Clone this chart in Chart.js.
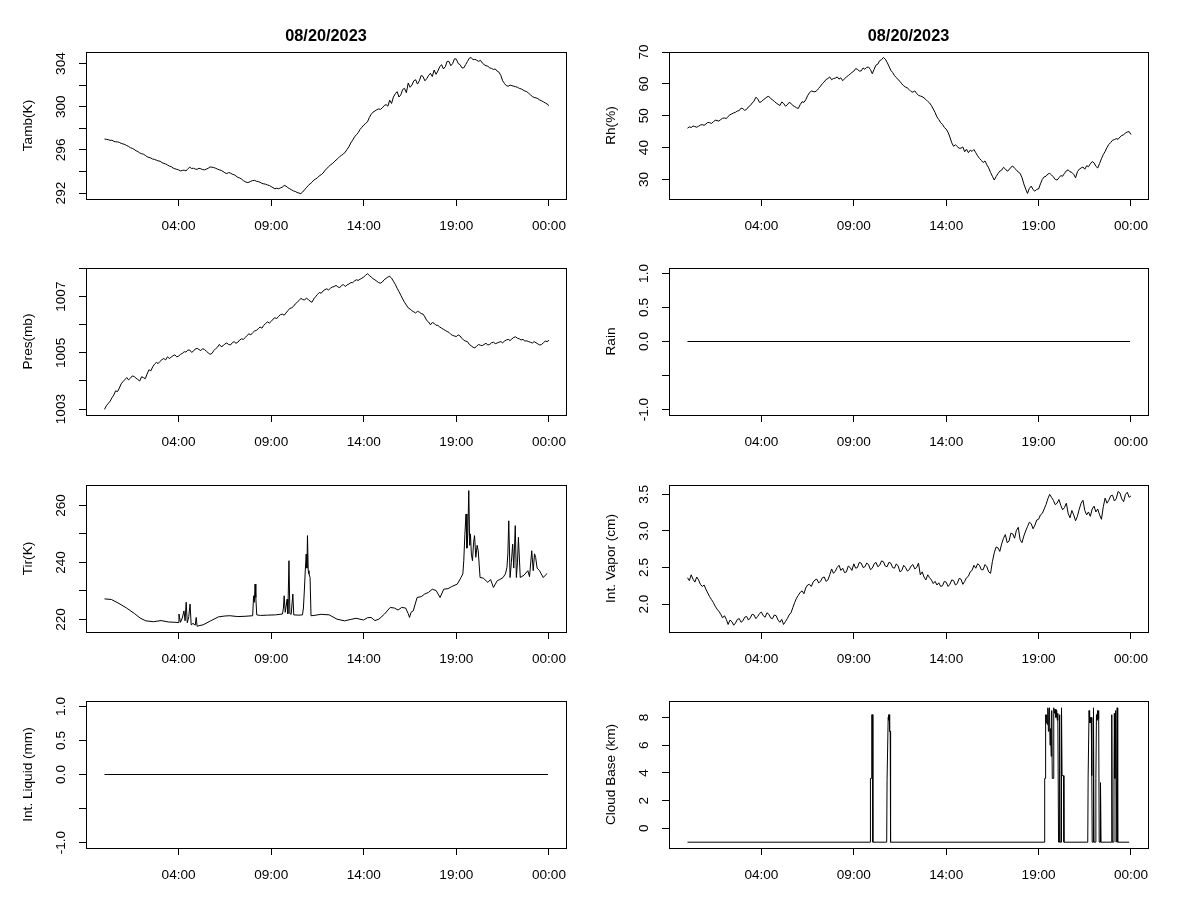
<!DOCTYPE html>
<html>
<head>
<meta charset="utf-8">
<script src="https://cdn.jsdelivr.net/npm/chart.js@4/dist/chart.umd.min.js"></script>
<style>
body { margin: 0; background: #fff; }
#wrap { position: relative; width: 1200px; height: 900px; }
.p { position: absolute; width: 600px; height: 216px; }
</style>
</head>
<body>
<div id="wrap"></div>
<script>
// series sampled every 0.1 h from 00:00
const STEP = 0.1;
const tamb = [
  297.0,296.98,296.95,296.88,296.9,296.8,296.75,296.74,296.7,296.6,
  296.55,296.5,296.4,296.32,296.2,296.14,296.05,295.92,295.85,295.72,
  295.65,295.6,295.5,295.36,295.3,295.25,295.15,295.12,295.05,294.98,
  294.95,294.82,294.75,294.7,294.6,294.5,294.45,294.32,294.25,294.2,
  294.15,294.05,294.1,294.12,294.05,294.25,294.4,294.28,294.3,294.22,
  294.2,294.3,294.25,294.18,294.15,294.22,294.3,294.42,294.4,294.36,
  294.3,294.22,294.15,294.1,294.0,293.88,293.8,293.9,293.85,293.75,
  293.7,293.58,293.45,293.4,293.3,293.15,293.05,292.98,293.0,293.1,
  293.15,293.18,293.1,293.06,293.0,292.9,292.85,292.82,292.75,292.7,
  292.6,292.5,292.4,292.45,292.4,292.48,292.55,292.7,292.65,292.5,
  292.4,292.3,292.2,292.15,292.05,292.0,291.95,292.1,292.3,292.5,
  292.7,292.85,293.0,293.2,293.3,293.42,293.6,293.7,293.85,294.1,
  294.25,294.45,294.6,294.72,294.9,295.05,295.2,295.38,295.5,295.62,
  295.8,296.05,296.3,296.65,296.9,297.2,297.4,297.6,297.9,298.1,
  298.3,298.45,298.6,299.0,299.3,299.5,299.6,299.72,299.8,299.75,
  299.9,300.1,300.2,300.05,300.6,300.3,300.9,301.2,301.4,300.9,
  301.1,301.6,301.7,301.3,302.2,301.8,302.0,302.4,302.5,302.1,
  302.4,302.9,302.8,302.4,302.6,302.9,303.1,302.8,303.4,303.0,
  303.3,303.7,303.9,303.5,303.7,304.2,304.2,303.8,304.0,304.45,
  304.4,304.0,303.9,303.6,303.6,303.9,304.2,304.5,304.56,304.35,
  304.4,304.3,304.2,304.3,304.05,303.9,303.8,303.75,303.6,303.55,
  303.45,303.5,303.3,303.2,302.9,302.4,302.15,301.95,301.9,302.0,
  301.95,301.9,301.85,301.8,301.7,301.65,301.55,301.45,301.4,301.25,
  301.1,300.95,300.85,300.82,300.75,300.62,300.55,300.45,300.35,300.25,
  300.1
];
const rh = [
  46.1,46.5,46.3,46.8,46.6,46.4,46.7,47.1,47.2,47.0,
  47.4,47.9,47.8,47.6,48.1,48.6,48.5,48.3,48.8,49.2,
  49.3,49.1,49.8,50.3,50.6,50.9,51.1,51.5,51.6,52.4,
  52.2,51.7,52.0,52.8,53.2,54.0,54.6,55.8,55.3,54.2,
  54.4,55.0,55.4,55.9,56.1,55.4,55.0,54.5,54.0,53.6,
  53.2,54.3,53.9,53.0,53.4,54.2,53.9,53.2,52.9,52.5,
  52.3,53.5,54.4,54.2,55.0,56.3,57.2,57.8,57.6,57.5,
  57.9,58.6,59.3,60.1,60.6,61.4,61.7,62.2,61.3,61.7,
  61.8,62.2,61.5,61.9,61.0,61.6,62.2,62.6,63.1,63.6,
  64.0,64.8,64.6,64.0,64.1,65.0,64.6,65.2,65.3,64.5,
  63.2,64.6,65.9,66.2,67.3,67.6,68.3,67.8,66.8,65.6,
  64.3,63.6,62.6,62.0,61.3,60.8,60.0,59.4,59.0,58.7,
  58.2,57.6,57.4,57.8,57.0,56.4,56.2,56.0,55.6,55.1,
  54.5,54.0,53.2,52.1,51.0,49.6,48.8,47.8,47.3,46.3,
  45.8,44.8,43.3,41.5,40.4,40.9,40.3,39.8,39.8,40.2,
  38.7,39.5,38.4,39.2,38.8,39.4,38.4,37.4,36.6,36.0,
  35.3,35.8,34.6,33.6,32.2,31.0,29.8,30.9,31.8,32.6,
  32.9,33.8,33.3,32.6,33.0,33.8,34.2,33.5,33.0,32.3,
  31.9,30.6,28.6,27.0,25.6,27.2,27.9,26.8,26.3,26.9,
  27.0,28.6,30.0,30.8,31.0,31.7,31.9,31.4,30.8,30.0,
  29.8,30.5,31.2,31.0,31.9,32.7,33.0,32.4,32.2,31.6,
  30.5,32.4,33.2,33.6,33.9,33.2,34.3,34.0,34.9,35.6,
  35.2,34.1,33.6,35.0,36.5,37.8,38.8,40.0,41.0,41.6,
  42.3,42.5,42.8,42.6,43.3,43.8,44.0,44.6,44.9,45.0,
  44.1
];
const pres = [
  1002.99,1003.12,1003.2,1003.28,1003.4,1003.5,1003.65,1003.62,1003.75,1003.9,
  1003.98,1004.05,1004.12,1004.04,1004.1,1004.18,1004.16,1004.1,1004.05,1004.0,
  1004.15,1004.12,1004.08,1004.25,1004.4,1004.36,1004.5,1004.6,1004.66,1004.62,
  1004.7,1004.76,1004.8,1004.75,1004.86,1004.8,1004.85,1004.9,1004.93,1004.86,
  1004.88,1004.95,1004.98,1005.04,1005.03,1005.1,1005.1,1005.02,1005.06,1005.14,
  1005.16,1005.12,1005.08,1005.15,1005.12,1005.06,1005.0,1004.95,1004.98,1005.08,
  1005.15,1005.2,1005.3,1005.22,1005.25,1005.32,1005.35,1005.3,1005.28,1005.36,
  1005.4,1005.34,1005.38,1005.46,1005.5,1005.48,1005.55,1005.62,1005.68,1005.64,
  1005.72,1005.78,1005.8,1005.86,1005.92,1005.88,1005.98,1006.05,1006.1,1006.06,
  1006.12,1006.2,1006.25,1006.22,1006.3,1006.36,1006.38,1006.34,1006.42,1006.5,
  1006.58,1006.6,1006.65,1006.74,1006.8,1006.86,1006.94,1006.9,1006.88,1006.95,
  1006.9,1006.84,1006.8,1006.92,1007.0,1007.08,1007.15,1007.12,1007.2,1007.25,
  1007.28,1007.24,1007.3,1007.34,1007.36,1007.4,1007.35,1007.32,1007.4,1007.43,
  1007.36,1007.42,1007.45,1007.5,1007.5,1007.56,1007.6,1007.58,1007.62,1007.66,
  1007.7,1007.76,1007.82,1007.75,1007.7,1007.64,1007.6,1007.55,1007.5,1007.48,
  1007.52,1007.6,1007.65,1007.7,1007.72,1007.66,1007.55,1007.44,1007.3,1007.18,
  1007.05,1006.92,1006.8,1006.7,1006.6,1006.56,1006.5,1006.46,1006.42,1006.48,
  1006.45,1006.4,1006.38,1006.28,1006.15,1006.1,1006.0,1006.08,1006.05,1005.98,
  1005.98,1005.92,1005.88,1005.84,1005.8,1005.76,1005.73,1005.66,1005.62,1005.6,
  1005.58,1005.64,1005.6,1005.52,1005.45,1005.42,1005.4,1005.3,1005.25,1005.2,
  1005.18,1005.24,1005.3,1005.27,1005.26,1005.3,1005.34,1005.28,1005.3,1005.36,
  1005.38,1005.33,1005.35,1005.38,1005.4,1005.36,1005.42,1005.46,1005.48,1005.44,
  1005.5,1005.55,1005.57,1005.52,1005.5,1005.46,1005.48,1005.42,1005.43,1005.4,
  1005.38,1005.35,1005.4,1005.36,1005.32,1005.28,1005.3,1005.36,1005.42,1005.4,
  1005.45
];
const vapor = [
  2.36,2.32,2.40,2.34,2.30,2.37,2.33,2.27,2.24,2.26,
  2.20,2.15,2.10,2.06,2.02,1.97,1.93,1.90,1.86,1.81,
  1.84,1.79,1.72,1.78,1.76,1.71,1.74,1.79,1.80,1.75,
  1.77,1.82,1.83,1.78,1.81,1.86,1.85,1.80,1.83,1.87,
  1.89,1.84,1.82,1.88,1.86,1.81,1.80,1.85,1.84,1.78,
  1.75,1.79,1.72,1.76,1.80,1.85,1.88,1.95,2.02,2.08,
  2.12,2.16,2.18,2.14,2.22,2.26,2.27,2.24,2.30,2.33,
  2.34,2.29,2.31,2.36,2.37,2.31,2.33,2.40,2.48,2.42,
  2.45,2.50,2.53,2.46,2.49,2.43,2.44,2.52,2.50,2.46,
  2.55,2.49,2.50,2.57,2.56,2.50,2.51,2.56,2.54,2.47,
  2.49,2.55,2.57,2.51,2.53,2.59,2.58,2.52,2.51,2.57,
  2.56,2.50,2.49,2.55,2.52,2.44,2.46,2.53,2.50,2.45,
  2.47,2.52,2.54,2.48,2.50,2.56,2.40,2.44,2.37,2.33,
  2.40,2.36,2.33,2.28,2.31,2.26,2.29,2.24,2.25,2.31,
  2.30,2.24,2.27,2.33,2.32,2.26,2.28,2.35,2.34,2.27,
  2.31,2.36,2.38,2.44,2.46,2.53,2.49,2.55,2.53,2.47,
  2.47,2.54,2.51,2.44,2.42,2.58,2.70,2.78,2.77,2.72,
  2.82,2.90,2.95,2.84,2.86,2.97,2.96,2.90,3.01,3.05,
  2.88,2.84,2.93,3.00,3.06,3.12,3.10,3.03,3.08,3.15,
  3.16,3.22,3.24,3.30,3.36,3.44,3.50,3.46,3.42,3.36,
  3.38,3.43,3.35,3.29,3.32,3.38,3.24,3.18,3.28,3.22,
  3.14,3.20,3.30,3.38,3.42,3.28,3.22,3.26,3.20,3.30,
  3.34,3.26,3.30,3.22,3.16,3.33,3.45,3.38,3.42,3.48,
  3.49,3.41,3.44,3.54,3.52,3.44,3.40,3.50,3.53,3.46,
  3.48
];
const rainT = [0, 23.95];
const rainV = [0, 0];
const liqT = [0, 23.95];
const liqV = [0, 0];

// irregular samples (hours, value)
const tirT = [
  0.0,0.37,0.78,1.19,1.61,1.92,2.23,2.64,3.05,3.46,
  3.8,3.98,4.02,4.1,4.2,4.29,4.35,4.41,4.47,4.55,
  4.62,4.68,4.78,4.9,4.95,5.0,5.1,5.32,5.73,6.15,
  6.5,6.77,7.2,7.59,8.0,8.05,8.09,8.13,8.17,8.22,
  8.42,8.8,9.24,9.61,9.66,9.7,9.76,9.86,9.9,9.96,
  10.01,10.08,10.17,10.22,10.5,10.69,10.74,10.79,10.84,10.89,
  10.93,10.96,11.0,11.04,11.1,11.15,11.31,11.7,12.13,12.55,
  12.96,13.3,13.58,13.99,14.2,14.4,14.6,14.82,15.12,15.43,
  15.65,15.85,16.05,16.26,16.4,16.47,16.55,16.67,16.88,17.1,
  17.29,17.5,17.7,17.91,18.12,18.32,18.55,18.74,19.05,19.25,
  19.35,19.4,19.46,19.52,19.57,19.62,19.67,19.72,19.76,19.81,
  19.87,19.93,19.98,20.05,20.12,20.18,20.28,20.45,20.7,20.85,
  21.0,21.21,21.35,21.52,21.65,21.73,21.78,21.83,21.9,21.97,
  22.04,22.1,22.18,22.24,22.3,22.35,22.45,22.65,22.86,22.95,
  23.07,23.15,23.22,23.28,23.36,23.49,23.69,23.8,23.9
];
const tirV = [
  227.2,227.0,225.6,224.0,222.1,220.5,219.5,219.2,219.6,219.1,
  219.0,218.9,221.9,219.0,220.5,223.0,219.5,226.0,218.8,221.0,
  225.4,218.1,218.6,218.0,220.7,217.6,217.8,218.1,219.5,220.9,
  221.2,221.3,221.0,221.1,221.3,228.3,226.0,232.4,227.7,221.6,
  221.4,221.5,221.6,221.9,224.0,228.3,222.5,227.1,222.0,240.6,
  222.0,221.8,228.9,221.6,221.5,221.6,224.0,230.0,237.0,242.9,
  238.0,249.4,237.1,236.0,234.7,221.3,221.4,221.8,221.6,220.1,
  219.5,220.0,220.4,219.8,220.6,220.7,219.6,220.1,221.9,224.2,
  224.0,223.3,224.2,224.0,222.0,220.7,222.5,223.0,227.7,228.0,
  228.9,229.5,230.6,230.1,227.7,230.6,230.8,231.5,232.4,234.7,
  236.0,240.6,249.9,257.0,245.0,250.0,265.2,246.0,250.0,242.9,
  240.6,247.0,249.4,241.8,246.0,244.1,234.7,234.5,233.0,234.0,
  231.2,233.6,234.0,234.7,236.0,238.2,243.0,254.6,234.7,240.0,
  246.4,238.0,252.9,234.7,240.0,248.8,234.7,235.5,237.1,235.0,
  244.1,237.1,243.0,241.8,238.0,237.1,234.7,235.5,236.1
];
const cbT = [
  0.0,9.88,9.9,9.95,9.97,10.02,10.03,
  10.78,10.8,10.84,10.86,10.88,10.9,10.92,10.94,10.97,10.99,
  19.3,19.33,19.36,19.38,19.41,19.44,19.47,19.5,19.53,19.56,19.59,19.62,19.65,19.68,19.71,19.74,19.79,
  19.82,19.86,19.9,19.94,19.98,20.01,20.04,20.08,20.12,20.14,20.16,20.22,20.24,20.27,20.35,20.37,
  21.66,21.68,21.71,21.73,21.76,21.79,21.82,21.85,21.88,21.9,21.95,21.97,22.0,
  22.08,22.1,22.13,22.16,22.19,22.22,22.25,22.28,22.33,22.35,22.38,
  22.93,22.95,22.97,22.99,23.06,23.08,23.1,23.13,23.17,23.2,23.23,23.25,23.28,23.9
];
const cbV = [
  -1,-1,3.6,3.6,8.2,8.2,-1,
  -1,3.5,3.5,8.0,8.2,7.8,8.2,7.0,7.0,-1,
  -1,3.6,3.6,8.2,7.6,8.2,7.5,8.7,7.0,8.5,8.7,6.0,7.2,5.2,8.5,3.6,3.6,
  8.7,8.3,8.6,8.0,8.5,7.8,8.3,-1,-1,8.2,-1,-1,8.7,3.8,3.8,-1,
  -1,3.7,3.7,8.5,7.6,8.0,7.6,8.0,3.8,-1,-1,8.7,-1,
  -1,3.6,8.2,7.8,8.5,7.9,8.5,-1,-1,3.3,-1,
  -1,3.6,8.2,-1,-1,3.6,8.3,3.6,8.5,-1,-1,8.7,-1,-1
];

const xTicks = [4, 9, 14, 19, 24];
const xLabels = ['04:00', '09:00', '14:00', '19:00', '00:00'];
const dateTitle = '08/20/2023';

const FONT = '"Liberation Sans", Arial, sans-serif';

function onGrid(vals) {
  return vals.map((v, i) => ({ x: i * STEP, y: v }));
}
function pairs(ts, vs) {
  return ts.map((t, i) => ({ x: t, y: vs[i] }));
}

const panels = [
  { col: 0, row: 0, ylab: 'Tamb(K)', min: 291.45, max: 305.07, pts: onGrid(tamb),
    yt: [292, 294, 296, 298, 300, 302, 304], yl: { 292: '292', 296: '296', 300: '300', 304: '304' }, title: true },
  { col: 1, row: 0, ylab: 'Rh(%)', min: 23.85, max: 70.02, pts: onGrid(rh),
    yt: [30, 40, 50, 60, 70], yl: { 30: '30', 40: '40', 50: '50', 60: '60', 70: '70' }, title: true },
  { col: 0, row: 1, ylab: 'Pres(mb)', min: 1002.79, max: 1008.02, pts: onGrid(pres),
    yt: [1003, 1004, 1005, 1006, 1007, 1008], yl: { 1003: '1003', 1005: '1005', 1007: '1007' } },
  { col: 1, row: 1, ylab: 'Rain', min: -1.08, max: 1.08, pts: pairs(rainT, rainV),
    yt: [-1, -0.5, 0, 0.5, 1], yl: { '-1': '-1.0', 0: '0.0', 0.5: '0.5', 1: '1.0' } },
  { col: 0, row: 2, ylab: 'Tir(K)', min: 215.59, max: 267.16, pts: pairs(tirT, tirV),
    yt: [220, 230, 240, 250, 260], yl: { 220: '220', 240: '240', 260: '260' } },
  { col: 1, row: 2, ylab: 'Int. Vapor (cm)', min: 1.617, max: 3.629, pts: onGrid(vapor),
    yt: [2, 2.5, 3, 3.5], yl: { 2: '2.0', 2.5: '2.5', 3: '3.0', 3.5: '3.5' } },
  { col: 0, row: 3, ylab: 'Int. Liquid (mm)', min: -1.08, max: 1.08, pts: pairs(liqT, liqV),
    yt: [-1, -0.5, 0, 0.5, 1], yl: { '-1': '-1.0', 0: '0.0', 0.5: '0.5', 1: '1.0' } },
  { col: 1, row: 3, ylab: 'Cloud Base (km)', min: -1.42, max: 9.19, pts: pairs(cbT, cbV),
    yt: [0, 2, 4, 6, 8], yl: { 0: '0', 2: '2', 4: '4', 6: '6', 8: '8' } }
];

const rowTop = [18, 234, 451, 667];

function rPlot(p) {
  return {
    id: 'rplot',
    afterDraw(chart) {
      const c = chart.ctx, a = chart.chartArea;
      c.save();
      c.strokeStyle = '#000';
      c.lineWidth = 1;
      c.strokeRect(Math.round(a.left) + 0.5, Math.round(a.top) + 0.5,
        Math.round(a.right - a.left), Math.round(a.bottom - a.top));
      c.fillStyle = '#000';
      c.font = '13.6px ' + FONT;
      c.textAlign = 'center';
      c.textBaseline = 'middle';
      const xs = chart.scales.x, ys = chart.scales.y;
      xTicks.forEach((v, i) => {
        c.fillText(xLabels[i], xs.getPixelForValue(v), a.bottom + 27);
      });
      p.yt.forEach(v => {
        const lab = p.yl[v];
        if (!lab) return;
        c.save();
        c.translate(a.left - 24.5, ys.getPixelForValue(v));
        c.rotate(-Math.PI / 2);
        c.fillText(lab, 0, 0);
        c.restore();
      });
      c.save();
      c.translate(a.left - 58, (a.top + a.bottom) / 2);
      c.rotate(-Math.PI / 2);
      c.fillText(p.ylab, 0, 0);
      c.restore();
      if (p.title) {
        c.font = 'bold 16.3px ' + FONT;
        c.fillText(dateTitle, (a.left + a.right) / 2, a.top - 15);
      }
      c.restore();
    }
  };
}

panels.forEach(p => {
  const box = document.createElement('div');
  box.className = 'p';
  box.style.left = (p.col * 600) + 'px';
  box.style.top = rowTop[p.row] + 'px';
  const cv = document.createElement('canvas');
  cv.width = 600; cv.height = 216;
  box.appendChild(cv);
  document.getElementById('wrap').appendChild(box);

  const yw = 50;
  const padL = p.col === 0 ? 86 - yw : 69 - yw;
  const padR = p.col === 0 ? 34 : 52;

  new Chart(cv.getContext('2d'), {
    type: 'line',
    data: {
      datasets: [{
        data: p.pts,
        borderColor: '#000',
        borderWidth: 1,
        pointRadius: 0,
        tension: 0,
        fill: false
      }]
    },
    options: {
      responsive: false,
      animation: false,
      events: [],
      layout: { padding: { top: 34, left: padL, right: padR, bottom: 0 } },
      plugins: { legend: { display: false }, tooltip: { enabled: false } },
      scales: {
        x: {
          type: 'linear',
          min: -1.0, max: 24.92,
          afterBuildTicks: s => { s.ticks = xTicks.map(v => ({ value: v })); },
          afterFit: s => { s.height = 35; },
          ticks: { display: false },
          grid: { drawOnChartArea: false, drawTicks: true, tickLength: 7, color: '#000', lineWidth: 1 },
          border: { display: false }
        },
        y: {
          type: 'linear',
          min: p.min, max: p.max,
          afterBuildTicks: s => { s.ticks = p.yt.map(v => ({ value: v })); },
          afterFit: s => { s.width = yw; },
          ticks: { display: false },
          grid: { drawOnChartArea: false, drawTicks: true, tickLength: 7, color: '#000', lineWidth: 1 },
          border: { display: false }
        }
      }
    },
    plugins: [rPlot(p)]
  });
});
</script>
</body>
</html>
